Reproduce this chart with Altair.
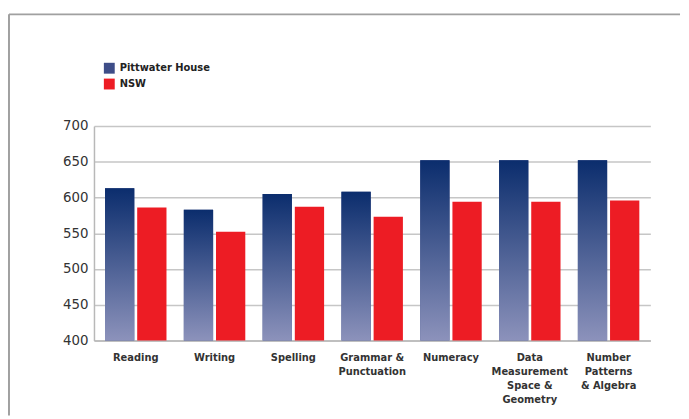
import altair as alt
import pandas as pd

categories = ["Reading", "Writing", "Spelling", "Grammar &\nPunctuation", "Numeracy",
              "Data\nMeasurement\nSpace &\nGeometry", "Number\nPatterns\n& Algebra"]
series = ["Pittwater House", "NSW"]
pittwater = [613, 583, 605, 608, 652, 652, 652]
nsw = [586, 552, 587, 573, 594, 594, 596]
y_ticks = [400, 450, 500, 550, 600, 650, 700]

rows = []
for c, a, b in zip(categories, pittwater, nsw):
    rows.append({"category": c, "series": series[0], "value": a})
    rows.append({"category": c, "series": series[1], "value": b})
df = pd.DataFrame(rows)

gradient = {
    "gradient": "linear", "x1": 0, "y1": 0, "x2": 0, "y2": 1,
    "stops": [{"offset": 0, "color": "#0b2d6d"}, {"offset": 1, "color": "#8c92bb"}],
}

x_enc = alt.X("category:N", sort=categories,
              scale=alt.Scale(paddingInner=0.22, paddingOuter=0.14),
              axis=alt.Axis(title=None, labelAngle=0, ticks=False,
                            labelExpr="split(datum.label, '\\n')",
                            labelFont="DejaVu Sans", labelFontWeight="bold",
                            labelFontSize=10, labelColor="#333", labelLineHeight=14.4,
                            labelPadding=12, labelOverlap=False,
                            domainColor="#b8b8b8", domainWidth=1.5))
xo_enc = alt.XOffset("series:N", sort=series,
                     scale=alt.Scale(domain=series, paddingInner=0.09, paddingOuter=0))
y_enc = alt.Y("value:Q",
              scale=alt.Scale(domain=[400, 700], zero=False, nice=False),
              axis=alt.Axis(values=y_ticks, title=None, ticks=False,
                            labelFont="DejaVu Sans", labelFontSize=13.5,
                            labelColor="#333", labelPadding=6,
                            domainColor="#b8b8b8", domainWidth=1.5,
                            gridColor="#c6c6c6", gridWidth=1.5))

base = alt.Chart(df)

bars = base.mark_bar().encode(
    x=x_enc, xOffset=xo_enc, y=y_enc, y2=alt.datum(400),
    color=alt.Color("series:N",
                    scale=alt.Scale(domain=series, range=["#3e4d88", "#ed1c24"]),
                    legend=alt.Legend(title=None, orient="none", legendX=10, legendY=-64,
                                      symbolType="square", symbolSize=121,
                                      symbolStrokeWidth=0,
                                      labelFont="DejaVu Sans", labelFontWeight="bold",
                                      labelFontSize=10, labelColor="#222",
                                      rowPadding=5, labelOffset=5, padding=0)),
)

ph_bars = base.mark_bar(fill=gradient).encode(
    x=x_enc, xOffset=xo_enc, y=y_enc, y2=alt.datum(400),
).transform_filter(alt.datum.series == "Pittwater House")

frame_data = alt.Data(values=[{"k": 1}])
top_line = alt.Chart(frame_data).mark_rule(color="#a0a0a0", strokeWidth=2).encode(
    x=alt.value(-86), x2=alt.value(593), y=alt.value(-113))
left_line = alt.Chart(frame_data).mark_rule(color="#a0a0a0", strokeWidth=2).encode(
    x=alt.value(-86), y=alt.value(-113), y2=alt.value(293))

chart = alt.layer(bars, ph_bars, top_line, left_line).properties(
    width=563, height=217,
    padding={"left": 0, "top": 3, "right": 0, "bottom": 0},
    background="white",
).configure_view(strokeWidth=0)

chart.save("out.html", embed_options={"renderer": "svg", "actions": False})
